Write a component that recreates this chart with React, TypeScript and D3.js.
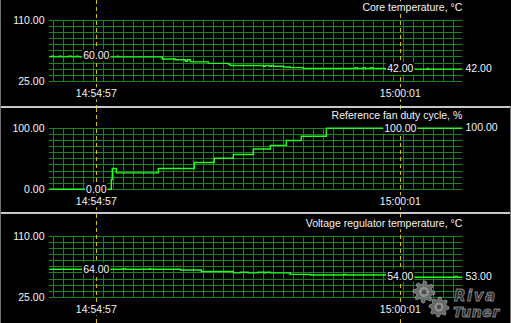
import React from "react";
import * as d3 from "d3";

const W = 511;
const H = 323;

// ---- data ----
const START = "14:54:10";
const SPAN_SECONDS = 413;
const GRID_PHASE = "14:54:14";
const cursorTimes = ["14:54:57", "15:00:01"];

const panelTitles = [
  "Core temperature, °C",
  "Reference fan duty cycle, %",
  "Voltage regulator temperature, °C",
];
const panelMin = [25, 0, 25];
const panelMax = [110, 100, 110];

const coreTimes = [
  "14:54:10", "14:54:12", "14:54:14", "14:54:20", "14:54:22", "14:54:29", "14:54:32",
  "14:54:37", "14:54:39", "14:54:50", "14:55:06", "14:55:08", "14:55:10", "14:55:18",
  "14:55:19", "14:56:03", "14:56:16", "14:56:26", "14:56:28", "14:56:31", "14:56:49",
  "14:57:09", "14:57:11", "14:57:44", "14:57:46", "14:57:50", "14:57:52", "14:57:54",
  "14:58:04", "14:58:11", "14:58:24", "14:59:16", "14:59:18", "14:59:24", "14:59:26",
  "14:59:31", "14:59:33", "14:59:46", "15:00:28", "15:00:29",
];
const coreValues = [
  59, 60, 59, 60, 59, 60, 59,
  60, 59, 60, 59, 60, 59, 60,
  59, 56, 55, 53, 55, 52, 50,
  49, 47, 46, 47, 46, 47, 46,
  45, 44, 43, 44, 43, 44, 43,
  44, 43, 42, 43, 42,
];

const fanTimes = [
  "14:54:10", "14:55:12", "14:55:13", "14:55:17", "14:55:59", "14:56:35", "14:56:55",
  "14:57:14", "14:57:34", "14:57:51", "14:58:07", "14:58:22", "14:58:47",
];
const fanValues = [0, 16, 34, 27, 34, 44, 51, 57, 66, 72, 80, 87, 100];

const vrmTimes = [
  "14:54:10", "14:55:24", "14:55:26", "14:55:50", "14:55:51", "14:56:21", "14:56:42",
  "14:57:14", "14:57:21", "14:57:29", "14:57:39", "14:57:45", "14:57:47", "14:57:51",
  "14:58:11", "14:58:31", "14:59:05", "14:59:07", "14:59:49", "15:00:13", "15:00:56",
  "15:00:58",
];
const vrmValues = [
  64, 65, 64, 65, 64, 63, 61,
  59, 60, 59, 60, 59, 60, 59,
  57, 56, 57, 56, 54, 53, 54,
  53,
];

const seriesTimes = [coreTimes, fanTimes, vrmTimes];
const seriesValues = [coreValues, fanValues, vrmValues];

// ---- layout / style ----
const PLOT_LEFT = 49.3;
const PLOT_RIGHT = 462.3;
const GRID_TOPS = [20.3, 128.3, 236.3];
const GRID_H = 61;
const PANEL_TOPS = [0, 108, 214];
const PANEL_BOTTOMS = [106, 212, 323];
const GRID_COLOR = "#118c11";
const LINE_COLOR = "#22ff22";
const TEXT_COLOR = "#f4f4f4";
const CURSOR_COLOR = "#d8c000";
const FONT = "'Liberation Sans', Arial, sans-serif";
const FS = 10.5;

const parse = d3.timeParse("%H:%M:%S");

function textWidth(s: string) {
  let w = 0;
  for (const c of s) {
    if (c === "." || c === ":") w += FS * 0.278;
    else w += FS * 0.556;
  }
  return w;
}

function gearPath(teeth: number, rOut: number, rIn: number) {
  const n = teeth * 4;
  const pts: [number, number][] = d3.range(n).map((i) => {
    const a = (i / n) * Math.PI * 2;
    const r = i % 4 < 2 ? rOut : rIn;
    return [a, r];
  });
  return d3.lineRadial().curve(d3.curveLinearClosed)(pts) || "";
}

export default function App() {
  const t0 = parse(START) as Date;
  const t1 = new Date(t0.getTime() + SPAN_SECONDS * 1000);
  const x = d3.scaleTime().domain([t0, t1]).range([PLOT_LEFT, PLOT_RIGHT]);

  const gridStart = parse(GRID_PHASE) as Date;
  const vTimes: Date[] = [];
  for (let t = gridStart.getTime(); t <= t1.getTime(); t += 10000) vTimes.push(new Date(t));

  const cursors = cursorTimes.map((s) => parse(s) as Date);
  const timeFmt = d3.timeFormat("%H:%M:%S");

  const panels = panelTitles.map((title, i) => {
    const top = GRID_TOPS[i];
    const y = d3.scaleLinear().domain([panelMin[i], panelMax[i]]).range([top + GRID_H, top]);
    const times = seriesTimes[i].map((s) => parse(s) as Date);
    const vals = seriesValues[i];
    const pts: [Date, number][] = times.map((t, k) => [t, vals[k]]);
    pts.push([t1, vals[vals.length - 1]]);
    const line = d3
      .line<[Date, number]>()
      .x((d) => x(d[0]))
      .y((d) => y(d[1]))
      .curve(d3.curveStepAfter);
    const bis = d3.bisector((d: Date) => d).right;
    const valueAt = (t: Date) => vals[Math.max(0, bis(times, t) - 1)];
    return { title, top, y, path: line(pts) || "", valueAt, last: vals[vals.length - 1] };
  });

  return (
    <svg
      width={W}
      height={H}
      viewBox={`0 0 ${W} ${H}`}
      style={{ position: "fixed", left: 0, top: 0, background: "#000", display: "block" }}
      fontFamily={FONT}
      fontSize={FS}
    >
      <rect x={0} y={0} width={W} height={H} fill="#000" />
      {panels.map((p, i) => {
        const yTicks = d3.range(11).map((k) => p.top + (GRID_H * k) / 10);
        const gBottom = p.top + GRID_H;
        return (
          <g key={i}>
            {/* grid */}
            <g stroke={GRID_COLOR} strokeWidth={1} shapeRendering="crispEdges">
              {yTicks.map((yy, k) => (
                <line key={"h" + k} x1={PLOT_LEFT} x2={PLOT_RIGHT} y1={yy} y2={yy} />
              ))}
              {vTimes.map((t, k) => (
                <line key={"v" + k} x1={x(t)} x2={x(t)} y1={p.top} y2={gBottom} />
              ))}
            </g>
            {/* cursors */}
            {cursors.map((c, k) => (
              <line
                key={"c" + k}
                x1={Math.round(x(c)) + 0.5}
                x2={Math.round(x(c)) + 0.5}
                y1={PANEL_TOPS[i]}
                y2={PANEL_BOTTOMS[i]}
                stroke={CURSOR_COLOR}
                strokeWidth={1}
                strokeDasharray="4 3"
                shapeRendering="crispEdges"
              />
            ))}
            {/* data line */}
            <path d={p.path} fill="none" stroke={LINE_COLOR} strokeWidth={1.4} />
            {/* title */}
            {(() => {
              const tw = textWidth(p.title) + 20;
              return (
                <g>
                  <rect x={PLOT_RIGHT - tw} y={p.top - 19} width={tw} height={12} fill="#000" />
                  <text x={PLOT_RIGHT} y={p.top - 9.8} textAnchor="end" fill={TEXT_COLOR}>
                    {p.title}
                  </text>
                </g>
              );
            })()}
            {/* y labels */}
            <text x={44.5} y={p.top + 4} textAnchor="end" fill={TEXT_COLOR}>
              {panelMax[i].toFixed(2)}
            </text>
            <text x={44.5} y={gBottom + 4} textAnchor="end" fill={TEXT_COLOR}>
              {panelMin[i].toFixed(2)}
            </text>
            {/* cursor labels */}
            {cursors.map((c, k) => {
              const v = p.valueAt(c);
              const s = v.toFixed(2);
              const w = textWidth(s) + 2;
              const cx = x(c);
              const vy = p.y(v);
              const ts = timeFmt(c);
              const tw = textWidth(ts) + 2;
              return (
                <g key={"cl" + k}>
                  <rect x={cx - w / 2} y={vy - 6.8} width={w} height={12} fill="#000" />
                  <text x={cx} y={vy + 3.3} textAnchor="middle" fill={TEXT_COLOR}>
                    {s}
                  </text>
                  <rect x={cx - tw / 2} y={gBottom + 6} width={tw} height={12} fill="#000" />
                  <text x={cx} y={gBottom + 16} textAnchor="middle" fill={TEXT_COLOR}>
                    {ts}
                  </text>
                </g>
              );
            })}
            {/* right value */}
            <text x={465.5} y={p.y(p.last) + 3} fill={TEXT_COLOR}>
              {p.last.toFixed(2)}
            </text>
          </g>
        );
      })}
      {/* separators and borders */}
      <rect x={0} y={106} width={W} height={2} fill="#c8c8c8" />
      <rect x={0} y={212} width={W} height={2} fill="#c8c8c8" />
      <rect x={0} y={0} width={1} height={H} fill="#707070" />
      <rect x={W - 1} y={106} width={1} height={H - 106} fill="#707070" />
      {/* watermark */}
      <g opacity={0.85}>
        <g transform="translate(424,292)">
          <path d={gearPath(8, 11, 8)} fill="#7a7a7a" stroke="#b0b0b0" strokeWidth={0.8} />
          <circle r={5} fill="#a8a8a8" />
          <circle r={2.5} fill="#555" />
        </g>
        <g transform="translate(439,307)">
          <path d={gearPath(8, 10, 7.5)} fill="#7a7a7a" stroke="#b0b0b0" strokeWidth={0.8} />
          <circle r={4.5} fill="#a8a8a8" />
          <circle r={2.2} fill="#555" />
        </g>
        <text
          x={454}
          y={301}
          fontSize={15}
          letterSpacing={1.5}
          fontStyle="italic"
          fontWeight="bold"
          fontFamily="'DejaVu Sans', sans-serif"
          fill="#2a2a2a"
          stroke="#9a9a9a"
          strokeWidth={0.9}
        >
          Riva
        </text>
        <text
          x={453}
          y={317}
          fontSize={14}
          letterSpacing={0.5}
          fontStyle="italic"
          fontWeight="bold"
          fontFamily="'DejaVu Sans', sans-serif"
          fill="#2a2a2a"
          stroke="#9a9a9a"
          strokeWidth={0.9}
        >
          Tuner
        </text>
      </g>
    </svg>
  );
}
